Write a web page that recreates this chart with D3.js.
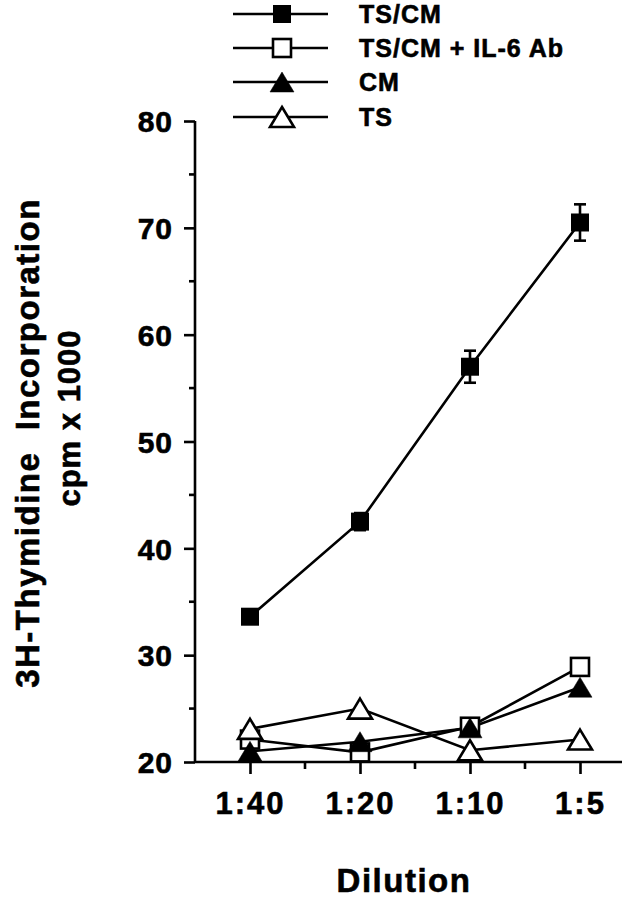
<!DOCTYPE html>
<html>
<head>
<meta charset="utf-8">
<script src="https://cdn.jsdelivr.net/npm/d3@7"></script>
<style>
  html, body { margin: 0; padding: 0; background: #fff; }
  svg { display: block; }
  text { font-family: "Liberation Sans", Arial, Helvetica, sans-serif; font-weight: bold; fill: #000; stroke: #000; stroke-width: 0.6px; }
</style>
</head>
<body>
<div id="chart"></div>
<script>
// values
const dilutions = ["1:40", "1:20", "1:10", "1:5"]
const tsCm = [33.6, 42.5, 57.0, 70.5]
const tsCmErr = [0.6, 0.8, 1.5, 1.7]
const tsCmIl6 = [22.1, 20.9, 23.3, 28.9]
const cmOnly = [21.0, 21.9, 23.2, 27.0]
const tsOnly = [23.1, 25.0, 21.1, 22.1]
const yTicks = [20, 30, 40, 50, 60, 70, 80]
const yMinorTicks = [25, 35, 45, 55, 65, 75]
const legendLabels = ["TS/CM", "TS/CM + IL-6 Ab", "CM", "TS"]

const width = 643, height = 899
const svg = d3.select("#chart").append("svg")
  .attr("width", width)
  .attr("height", height)

const x = d3.scalePoint().domain(dilutions).range([195, 635]).padding(0.5)
const y = d3.scaleLinear().domain([20, 80]).range([762, 121])

const stroke = 2.6

// y axis
const yAxis = svg.append("g")
  .attr("transform", "translate(195,0)")
  .call(d3.axisLeft(y).tickValues(yTicks).tickSize(11).tickPadding(11))
yAxis.select(".domain").attr("stroke-width", stroke).attr("d", `M0,${y(80)}V${y(20)}`)
yAxis.selectAll(".tick line").attr("stroke-width", stroke)
yAxis.selectAll(".tick text").style("font-size", "30px").style("letter-spacing", "1px").attr("dy", "0.36em")
yAxis.selectAll(".minor").data(yMinorTicks).enter().append("line")
  .attr("class", "minor")
  .attr("x1", -6).attr("x2", 0)
  .attr("y1", d => y(d)).attr("y2", d => y(d))
  .attr("stroke", "#000").attr("stroke-width", stroke)

// x axis
const xAxis = svg.append("g")
  .attr("transform", `translate(0,${y(20)})`)
  .call(d3.axisBottom(x).tickSize(12).tickPadding(18))
xAxis.select(".domain").remove()
xAxis.append("line")
  .attr("x1", 195).attr("x2", 622)
  .attr("stroke", "#000").attr("stroke-width", stroke)
xAxis.selectAll(".tick line").attr("stroke-width", stroke)
xAxis.selectAll(".tick text").style("font-size", "31px").style("letter-spacing", "2px")
const mids = dilutions.slice(1).map((d, i) => (x(dilutions[i]) + x(d)) / 2)
xAxis.selectAll(".minor").data(mids).enter().append("line")
  .attr("class", "minor")
  .attr("x1", d => d).attr("x2", d => d)
  .attr("y1", 0).attr("y2", 7)
  .attr("stroke", "#000").attr("stroke-width", stroke)

// axis titles
svg.append("text")
  .attr("transform", "translate(30,443) rotate(-90)")
  .attr("text-anchor", "middle")
  .attr("dominant-baseline", "middle")
  .style("font-size", "33px")
  .style("letter-spacing", "1.5px")
  .text("3H-Thymidine\u00a0\u00a0Incorporation")
svg.append("text")
  .attr("transform", "translate(72,418) rotate(-90)")
  .attr("text-anchor", "middle")
  .attr("dominant-baseline", "middle")
  .style("font-size", "31px")
  .style("letter-spacing", "1px")
  .text("cpm x 1000")
svg.append("text")
  .attr("x", 404).attr("y", 892)
  .attr("text-anchor", "middle")
  .style("font-size", "33px")
  .style("letter-spacing", "1.5px")
  .text("Dilution")

// markers
const sq = 18
const triW = 24, triH = 20
const triPath = `M0,${-triH / 2}L${triW / 2},${triH / 2}L${-triW / 2},${triH / 2}Z`

function drawMarker(g, kind, cx, cy) {
  if (kind === "sqFill" || kind === "sqOpen") {
    g.append("rect")
      .attr("x", cx - sq / 2).attr("y", cy - sq / 2)
      .attr("width", sq).attr("height", sq)
      .attr("fill", kind === "sqFill" ? "#000" : "#fff")
      .attr("stroke", "#000").attr("stroke-width", kind === "sqFill" ? 0 : stroke)
  } else {
    g.append("path")
      .attr("d", triPath)
      .attr("transform", `translate(${cx},${cy})`)
      .attr("fill", kind === "triFill" ? "#000" : "#fff")
      .attr("stroke", "#000").attr("stroke-width", kind === "triFill" ? 0.5 : stroke)
      .attr("stroke-linejoin", "miter")
  }
}

const series = [
  { values: tsCm, kind: "sqFill", err: tsCmErr },
  { values: tsCmIl6, kind: "sqOpen" },
  { values: cmOnly, kind: "triFill" },
  { values: tsOnly, kind: "triOpen" }
]

const line = d3.line().x((d, i) => x(dilutions[i])).y(d => y(d))
const plot = svg.append("g")
series.forEach(s => {
  plot.append("path")
    .attr("d", line(s.values))
    .attr("fill", "none")
    .attr("stroke", "#000")
    .attr("stroke-width", stroke)
})

// error bars for TS/CM
tsCm.forEach((v, i) => {
  const cx = x(dilutions[i])
  const e = tsCmErr[i]
  plot.append("line")
    .attr("x1", cx).attr("x2", cx)
    .attr("y1", y(v + e)).attr("y2", y(v - e))
    .attr("stroke", "#000").attr("stroke-width", stroke)
  ;[v + e, v - e].forEach(t => {
    plot.append("line")
      .attr("x1", cx - 6).attr("x2", cx + 6)
      .attr("y1", y(t)).attr("y2", y(t))
      .attr("stroke", "#000").attr("stroke-width", stroke)
  })
})

// draw order: filled squares, open squares, open triangles, filled triangles
const drawOrder = [0, 1, 3, 2]
drawOrder.forEach(k => {
  const s = series[k]
  s.values.forEach((v, i) => drawMarker(plot, s.kind, x(dilutions[i]), y(v)))
})

// legend
const legend = svg.append("g")
const legendY = [14, 48, 82, 117]
legendLabels.forEach((lab, i) => {
  const row = legend.append("g")
  row.append("line")
    .attr("x1", 233).attr("x2", 328)
    .attr("y1", legendY[i]).attr("y2", legendY[i])
    .attr("stroke", "#000").attr("stroke-width", stroke)
  drawMarker(row, series[i].kind, 282, legendY[i])
  row.append("text")
    .attr("x", 359).attr("y", legendY[i] + 9)
    .style("font-size", "25px")
    .style("letter-spacing", "1px")
    .text(lab)
})
</script>
</body>
</html>
